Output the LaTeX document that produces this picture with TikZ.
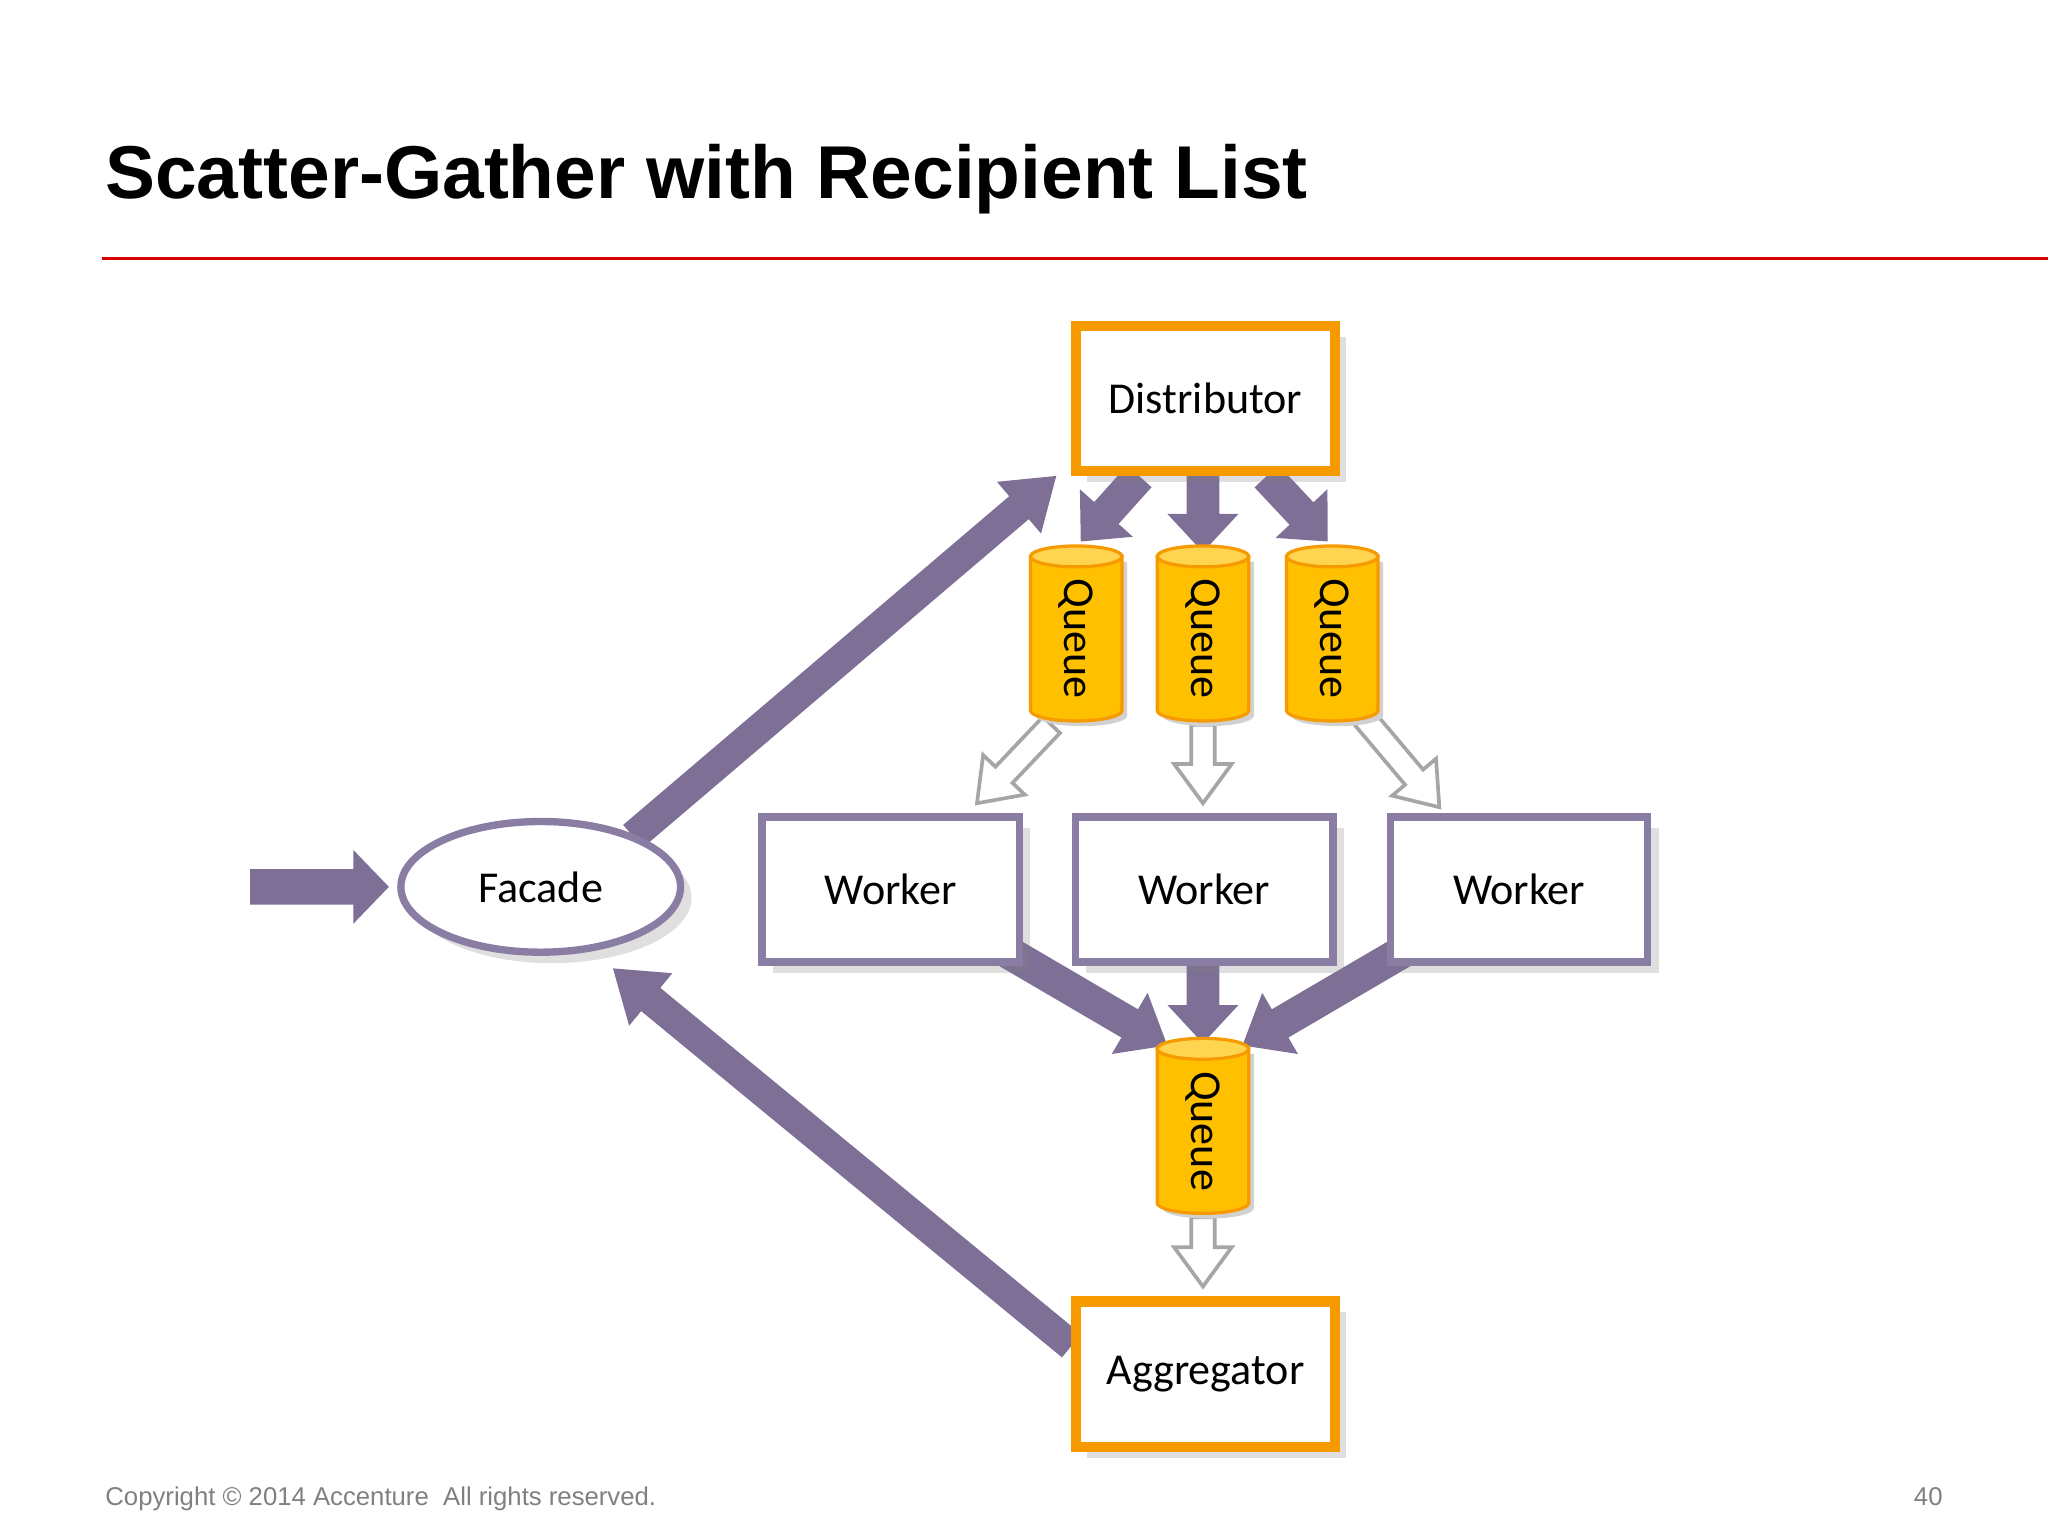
\documentclass[tikz,border=0pt]{standalone}
\usepackage{fontspec}
\setmainfont{Carlito}
\newfontfamily\arialf{Liberation Sans}
\usetikzlibrary{calc,shapes.geometric,shadows}
\definecolor{purp}{HTML}{7E6F96}
\definecolor{purpd}{HTML}{8A7DA3}
\definecolor{orng}{HTML}{F79A00}
\definecolor{qbody}{HTML}{FFC000}
\definecolor{qend}{HTML}{FFD54F}
\newcommand\fatarr[6]{%
 \coordinate (hh) at ($(#3)!#6!(#2)$);
 \draw[#1] ($(#2)!#4!90:(#3)$) -- ($(hh)!#4!-90:(#2)$) -- ($(hh)!#5!-90:(#2)$) -- (#3)
 -- ($(hh)!#5!90:(#2)$) -- ($(hh)!#4!90:(#2)$) -- ($(#2)!#4!-90:(#3)$) -- cycle;}
\newcommand\queuenode[3]{%
 \begin{scope}[shift={(#2,#3)}]
 \fill[black!18] (-31,-55) -- (-31,63) arc[start angle=180,end angle=0,x radius=35,y radius=8] -- (39,-55) -- cycle;
 \filldraw[fill=qbody,draw=orng,line width=0.7pt] (-35,-59) -- (-35,59) arc[start angle=180,end angle=0,x radius=35,y radius=8] -- (35,-59) -- cycle;
 \filldraw[fill=qend,draw=orng,line width=0.7pt] (0,-59) ellipse[x radius=35,y radius=8];
 \end{scope}
 \node[rotate=-90,lbl,inner sep=0pt] (#1) at (#2,#3+4) {Queue};}
\tikzset{
 fat/.style={fill=purp,draw=purp,line width=0.3pt},
 hollow/.style={fill=white,draw=gray!70,line width=0.8pt},
 obox/.style={draw=orng,line width=2.2pt,fill=white,minimum width=1.98cm,minimum height=1.11cm,drop shadow={opacity=0.25}},
 wbox/.style={draw=purpd,line width=1.6pt,fill=white,minimum width=1.97cm,minimum height=1.11cm,drop shadow={opacity=0.25}},
 lbl/.style={font=\fontsize{9.6}{11}\selectfont},
}
\begin{document}
\begin{tikzpicture}[x=0.01cm,y=-0.01cm]
\useasboundingbox (0,0) rectangle (1568,1176);
\node[anchor=base west,inner sep=0pt,font=\arialf\bfseries\fontsize{16.3}{20}\selectfont] (title) at (80,152) {Scatter-Gather with Recipient List};
\draw[red!85!black,line width=0.8pt] (78,198) -- (1568,198);
\node[anchor=base west,inner sep=0pt,text=gray,font=\arialf\fontsize{5.6}{7}\selectfont] (copy) at (80,1153) {Copyright \textcopyright{} 2014 Accenture\ \ All rights reserved.};
\node[anchor=base east,inner sep=0pt,text=gray,font=\arialf\fontsize{5.6}{7}\selectfont] (pg) at (1488,1153) {40};

% input
\coordinate (in0) at (192,679); \coordinate (in1) at (297,679);
\fatarr{fat}{in0}{in1}{0.13cm}{0.27cm}{0.26cm}
\coordinate (a0) at (485,640); \coordinate (a1) at (808,365);
\fatarr{fat}{a0}{a1}{0.11cm}{0.25cm}{0.36cm}
\coordinate (b0) at (820,1030); \coordinate (b1) at (470,742);
\fatarr{fat}{b0}{b1}{0.11cm}{0.25cm}{0.36cm}
% distributor to queues
\coordinate (d1) at (872,365); \coordinate (d1e) at (828,414);
\fatarr{fat}{d1}{d1e}{0.12cm}{0.26cm}{0.28cm}
\coordinate (d2) at (921,362); \coordinate (d2e) at (921,422);
\fatarr{fat}{d2}{d2e}{0.12cm}{0.26cm}{0.28cm}
\coordinate (d3) at (970,365); \coordinate (d3e) at (1016,414);
\fatarr{fat}{d3}{d3e}{0.12cm}{0.26cm}{0.28cm}
% workers to bottom queue
\coordinate (e1) at (770,728); \coordinate (e1e) at (893,800);
\fatarr{fat}{e1}{e1e}{0.12cm}{0.26cm}{0.32cm}
\coordinate (e2) at (921,738); \coordinate (e2e) at (921,798);
\fatarr{fat}{e2}{e2e}{0.12cm}{0.26cm}{0.28cm}
\coordinate (e3) at (1075,728); \coordinate (e3e) at (952,800);
\fatarr{fat}{e3}{e3e}{0.12cm}{0.26cm}{0.32cm}
% hollow arrows
\coordinate (h1) at (805,555); \coordinate (h1e) at (748,615);
\fatarr{hollow}{h1}{h1e}{0.09cm}{0.22cm}{0.3cm}
\coordinate (h2) at (921,555); \coordinate (h2e) at (921,615);
\fatarr{hollow}{h2}{h2e}{0.09cm}{0.22cm}{0.3cm}
\coordinate (h3) at (1043,548); \coordinate (h3e) at (1102,618);
\fatarr{hollow}{h3}{h3e}{0.09cm}{0.22cm}{0.3cm}
\coordinate (h4) at (921,932); \coordinate (h4e) at (921,985);
\fatarr{hollow}{h4}{h4e}{0.09cm}{0.22cm}{0.3cm}

\node[obox,lbl] (dist) at (923,305) {Distributor};
\node[obox,lbl] (agg) at (923,1052) {Aggregator};
\node[wbox,lbl] (w1) at (682,681) {Worker};
\node[wbox,lbl] (w2) at (922,681) {Worker};
\node[wbox,lbl] (w3) at (1163,681) {Worker};
\node[ellipse,draw=purpd,line width=1.6pt,fill=white,minimum width=2.14cm,minimum height=1.0cm,lbl,drop shadow={opacity=0.25}] (fac) at (414,679) {Facade};
\queuenode{q1}{824}{485}
\queuenode{q2}{921}{485}
\queuenode{q3}{1020}{485}
\queuenode{q4}{921}{862}
\end{tikzpicture}
\end{document}
